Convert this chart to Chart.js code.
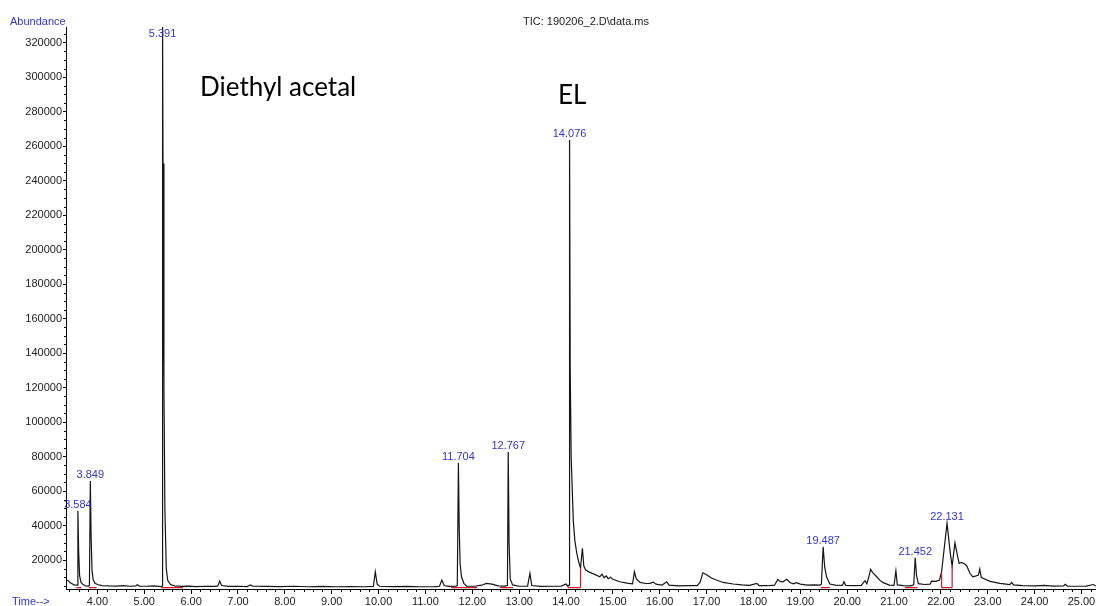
<!DOCTYPE html>
<html>
<head>
<meta charset="utf-8">
<title>TIC: 190206_2.D\data.ms</title>
<script src="https://cdn.jsdelivr.net/npm/chart.js@4/dist/chart.umd.min.js"></script>
<style>
  html, body { margin: 0; padding: 0; background: #fff; }
  #wrap { width: 1096px; height: 606px; position: relative; }
</style>
</head>
<body>
<div id="wrap"><canvas id="tic"></canvas></div>
<script>
// Total ion chromatogram: retention time (min) vs abundance
const retentionTime = [
  3.33, 3.38, 3.42, 3.46, 3.50, 3.54, 3.57, 3.584, 3.60, 3.62,
  3.65, 3.70, 3.75, 3.80, 3.83, 3.849, 3.865, 3.885, 3.91, 3.95,
  4.00, 4.10, 4.25, 4.40, 4.55, 4.70, 4.82, 4.85, 4.90, 5.05,
  5.20, 5.30, 5.38, 5.391, 5.40, 5.42, 5.44, 5.47, 5.50, 5.56,
  5.65, 5.80, 5.95, 6.10, 6.30, 6.50, 6.57, 6.61, 6.65, 6.80,
  7.00, 7.20, 7.26, 7.32, 7.60, 7.90, 8.20, 8.50, 8.80, 9.10,
  9.40, 9.70, 9.89, 9.93, 9.97, 10.02, 10.30, 10.60, 10.90, 11.20,
  11.30, 11.35, 11.40, 11.50, 11.65, 11.68, 11.704, 11.72, 11.74, 11.77,
  11.82, 11.88, 12.05, 12.20, 12.30, 12.42, 12.55, 12.70, 12.75, 12.767,
  12.785, 12.81, 12.86, 13.00, 13.18, 13.23, 13.27, 13.45, 13.70, 13.90,
  14.00, 14.04, 14.065, 14.076, 14.09, 14.11, 14.155, 14.19, 14.23, 14.27,
  14.31, 14.35, 14.38, 14.42, 14.50, 14.60, 14.72, 14.77, 14.81, 14.86,
  14.90, 14.95, 15.00, 15.15, 15.30, 15.42, 15.46, 15.50, 15.58, 15.70,
  15.79, 15.86, 15.92, 16.05, 16.15, 16.20, 16.40, 16.60, 16.80, 16.86,
  16.92, 17.00, 17.10, 17.21, 17.35, 17.57, 17.75, 17.92, 18.07, 18.12,
  18.30, 18.45, 18.52, 18.57, 18.63, 18.71, 18.78, 18.85, 18.92, 19.00,
  19.15, 19.30, 19.42, 19.45, 19.487, 19.52, 19.56, 19.63, 19.75, 19.90,
  19.93, 19.97, 20.15, 20.30, 20.38, 20.42, 20.46, 20.50, 20.55, 20.63,
  20.70, 20.77, 20.90, 21.00, 21.04, 21.07, 21.20, 21.35, 21.42, 21.452,
  21.48, 21.52, 21.65, 21.77, 21.80, 21.90, 21.97, 22.015, 22.131, 22.20,
  22.24, 22.30, 22.35, 22.39, 22.44, 22.50, 22.55, 22.62, 22.68, 22.75,
  22.80, 22.83, 22.86, 22.90, 23.05, 23.26, 23.47, 23.51, 23.55, 23.75,
  24.00, 24.20, 24.40, 24.62, 24.65, 24.70, 24.90, 25.10, 25.25, 25.31
];
const abundance = [
  8400, 8000, 6800, 6200, 5600, 5400, 5500, 48600, 25000, 11000,
  7000, 5600, 5000, 4900, 5200, 65800, 35000, 14000, 8500, 6500,
  5800, 5200, 5000, 4900, 5100, 4800, 5000, 5700, 4900, 4800,
  5000, 4700, 4900, 331000, 250000, 120000, 50000, 15000, 8300, 5800,
  5000, 4700, 4900, 4600, 4800, 4700, 5000, 7800, 5200, 4700,
  4800, 4600, 5600, 4800, 4700, 4600, 4800, 4500, 4700, 4500,
  4600, 4500, 4700, 13200, 6000, 4800, 4600, 4700, 4500, 4600,
  4800, 8400, 5200, 4700, 4800, 5200, 76300, 40000, 18000, 10300,
  6500, 4900, 4800, 5400, 6400, 6000, 5000, 4900, 5200, 82600,
  30000, 9000, 5600, 4800, 4900, 12300, 5200, 4700, 4800, 4900,
  6100, 4800, 5500, 263500, 130000, 80000, 43000, 31000, 24000, 19000,
  15400, 26800, 16500, 14200, 13000, 11800, 10300, 11800, 9800, 10800,
  9200, 10000, 8800, 7400, 6600, 6200, 13200, 9000, 7000, 6400,
  6500, 7200, 6000, 5500, 7400, 5400, 5000, 5200, 5100, 7000,
  12600, 11500, 9600, 8400, 7000, 6100, 5600, 5300, 6500, 5200,
  5100, 5400, 8800, 7600, 7400, 8800, 7000, 6200, 6900, 6000,
  5400, 5600, 5500, 6000, 27700, 16000, 10300, 6100, 5400, 5300,
  7400, 5300, 5100, 5300, 8000, 6200, 10000, 14600, 12500, 10300,
  8200, 6900, 5500, 5300, 13800, 5600, 5200, 5000, 5600, 21300,
  11000, 6300, 5800, 6000, 7800, 7600, 8400, 13200, 41300, 24000,
  16500, 30000, 23000, 18000, 18600, 17800, 16700, 12300, 10300, 10800,
  11300, 14800, 10000, 9400, 7600, 6500, 5700, 7000, 5600, 5200,
  5000, 5300, 4900, 5000, 5900, 4900, 4800, 4900, 5800, 4900
];

// Integrated peaks (labelled with their retention times)
const labelledPeaks = [3.584, 3.849, 5.391, 11.704, 12.767, 14.076, 19.487, 21.452, 22.131];

// Integration baselines (red) and their drop lines
const integrationStart = [3.55, 3.82, 5.36, 11.55, 12.59, 14.04, 19.44, 21.23, 22.015];
const integrationEnd   = [3.66, 3.98, 5.83, 12.10, 12.87, 14.31, 19.63, 21.50, 22.24];
const integrationLevel = 4000;
const dropLineTimes = [14.31, 22.015, 22.24];

// Axis ticks
const timeTicks = [4, 5, 6, 7, 8, 9, 10, 11, 12, 13, 14, 15, 16, 17, 18, 19, 20, 21, 22, 23, 24, 25];
const abundanceTicks = [20000, 40000, 60000, 80000, 100000, 120000, 140000, 160000,
  180000, 200000, 220000, 240000, 260000, 280000, 300000, 320000];

// Compound annotations
const compoundNames = ['Diethyl acetal', 'EL'];

const valueAt = t => abundance[retentionTime.indexOf(t)];

const tracePoints = retentionTime.map((t, i) => ({ x: t, y: abundance[i] }));

const integrationPoints = [];
integrationStart.forEach((s, i) => {
  integrationPoints.push({ x: s, y: integrationLevel }, { x: integrationEnd[i], y: integrationLevel }, { x: integrationEnd[i], y: null });
});
dropLineTimes.forEach(t => {
  integrationPoints.push({ x: t, y: integrationLevel }, { x: t, y: valueAt(t) }, { x: t, y: null });
});

const SANS = '"Liberation Sans", Arial, Helvetica, sans-serif';
Chart.defaults.font.family = SANS;

const blue = '#3434d2';

const ticDecorations = {
  id: 'ticDecorations',
  afterDatasetsDraw(chart) {
    const { ctx, chartArea, scales: { x, y } } = chart;
    ctx.save();

    // minor ticks on both axes
    ctx.strokeStyle = '#000';
    ctx.lineWidth = 1;
    ctx.beginPath();
    for (let k = 17; k <= 126; k++) {
      if (k % 5 === 0) continue;
      const t = k / 5;
      if (t < x.min || t > x.max) continue;
      const px = Math.round(x.getPixelForValue(t)) + 0.5;
      ctx.moveTo(px, chartArea.bottom);
      ctx.lineTo(px, chartArea.bottom + 3);
    }
    for (let k = 1; k <= 65; k++) {
      const v = k * 5000;
      if (v % 20000 === 0 || v < y.min || v > y.max) continue;
      const py = Math.round(y.getPixelForValue(v)) + 0.5;
      ctx.moveTo(chartArea.left, py);
      ctx.lineTo(chartArea.left - 2, py);
    }
    ctx.stroke();

    // retention time labels above the integrated peaks
    ctx.font = '11px ' + SANS;
    ctx.fillStyle = blue;
    ctx.textAlign = 'center';
    ctx.textBaseline = 'alphabetic';
    labelledPeaks.forEach(t => {
      const px = x.getPixelForValue(t);
      const py = Math.max(y.getPixelForValue(valueAt(t)) - 3, chartArea.top + 10);
      ctx.fillText(t.toFixed(3), px, py);
    });
    ctx.restore();
  },
  afterDraw(chart) {
    const { ctx } = chart;
    ctx.save();
    ctx.textBaseline = 'alphabetic';
    ctx.font = '11px ' + SANS;

    ctx.fillStyle = '#222';
    ctx.textAlign = 'center';
    ctx.fillText('TIC: 190206_2.D\\data.ms', 586, 24.5);

    ctx.fillStyle = blue;
    ctx.textAlign = 'left';
    ctx.fillText('Abundance', 10, 24.5);
    ctx.fillText('Time-->', 12, 604.5);

    ctx.fillStyle = '#000';
    ctx.font = '26px Lato, "Open Sans", sans-serif';
    ctx.fillText(compoundNames[0], 200, 96);
    ctx.fillText(compoundNames[1], 558, 104);
    ctx.restore();
  }
};

new Chart(document.getElementById('tic'), {
  type: 'line',
  data: {
    datasets: [
      {
        label: 'Integration',
        data: integrationPoints,
        borderColor: '#d8141e',
        borderWidth: 1.2,
        pointRadius: 0,
        spanGaps: false,
        order: 0
      },
      {
        label: 'TIC',
        data: tracePoints,
        borderColor: '#151515',
        borderWidth: 1.2,
        pointRadius: 0,
        tension: 0,
        order: 1
      }
    ]
  },
  options: {
    responsive: true,
    maintainAspectRatio: false,
    animation: false,
    parsing: false,
    normalized: true,
    layout: { padding: { top: 27, left: 0, right: 0, bottom: 0 } },
    plugins: {
      legend: { display: false },
      tooltip: { enabled: false },
      title: { display: false }
    },
    scales: {
      x: {
        type: 'linear',
        min: 3.33,
        max: 25.31,
        bounds: 'data',
        afterBuildTicks: s => { s.ticks = timeTicks.map(v => ({ value: v })); },
        afterFit: s => { s.height = 17; s.paddingLeft = 0; s.paddingRight = 0; },
        border: { display: true, color: '#000', width: 1 },
        grid: { drawOnChartArea: false, drawTicks: true, tickLength: 5, color: '#000', tickColor: '#000' },
        ticks: {
          autoSkip: false,
          maxRotation: 0,
          padding: 1,
          color: '#222',
          font: { size: 11 },
          callback: v => Number(v).toFixed(2)
        }
      },
      y: {
        type: 'linear',
        min: 3200,
        max: 329100,
        bounds: 'data',
        afterBuildTicks: s => { s.ticks = abundanceTicks.map(v => ({ value: v })); },
        afterFit: s => { s.width = 66; s.paddingTop = 0; s.paddingBottom = 0; },
        border: { display: true, color: '#000', width: 1 },
        grid: { drawOnChartArea: false, drawTicks: true, tickLength: 3, color: '#000', tickColor: '#000' },
        ticks: {
          autoSkip: false,
          padding: 1,
          color: '#222',
          font: { size: 11 },
          callback: v => String(v)
        }
      }
    }
  },
  plugins: [ticDecorations]
});
</script>
</body>
</html>
